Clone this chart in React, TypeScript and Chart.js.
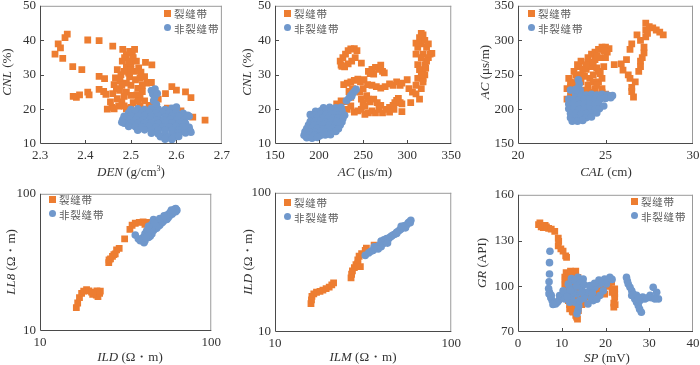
import React, { useEffect, useRef } from 'react';
import { Chart, registerables } from 'chart.js';
Chart.register(...registerables);

const ORANGE = '#ED7D31';
const BLUE = '#7098CC';
const LABEL_FRAC = '裂缝带';
const LABEL_NON = '非裂缝带';

type Pt = [number, number];

// Panel 1: DEN vs CNL
const denCnlFrac: Pt[] = [[2.333,36],[2.34,39],[2.345,37.8],[2.35,34.8],[2.355,40.8],[2.36,41.8],[2.372,32.4],[2.392,31.5],[2.373,23.8],[2.38,23.5],[2.387,24.2],[2.405,25],[2.408,24.2],[2.405,40.1],[2.43,39.9],[2.43,29.6],[2.442,28.9],[2.43,25.8],[2.44,25.2],[2.445,24.4],[2.448,20.1],[2.458,20.6],[2.46,38.3],[2.47,31.5],[2.463,27.2],[2.468,26],[2.476,28.3],[2.482,37.4],[2.481,34],[2.49,35.8],[2.497,36.8],[2.503,36.4],[2.508,37.4],[2.49,32.2],[2.5,33.2],[2.512,34],[2.517,32],[2.522,30.8],[2.532,33.6],[2.546,32.9],[2.535,27.6],[2.545,27.8],[2.5,27],[2.51,28.6],[2.49,25],[2.5,24.1],[2.52,23.2],[2.505,22],[2.48,22.2],[2.47,23.1],[2.46,24.6],[2.49,20.2],[2.5,20.6],[2.52,21],[2.532,20.1],[2.56,23],[2.576,24.6],[2.59,26.6],[2.6,25.6],[2.62,25.1],[2.632,23.4],[2.61,19.6],[2.636,17.8],[2.663,16.9],[2.58,20.4],[2.57,19.2],[2.55,22.1],[2.478,30.1],[2.466,29.1],[2.497,29.4],[2.515,26.1],[2.525,25.2],[2.54,21.2],[2.555,20.5],[2.598,19.6],[2.455,22.2],[2.49,27.6],[2.508,31],[2.486,35],[2.52,29],[2.473,21],[2.463,20.2],[2.485,23.8],[2.495,30.5],[2.513,24.2],[2.53,22.5],
[2.485,31],[2.495,34],[2.505,35],[2.475,25.5],[2.48,27],[2.5,31.5],[2.525,27],[2.515,22.5],[2.485,21],[2.53,29.5]];
const denCnlNon: Pt[] = [[2.50,20],[2.515,20.2],[2.53,20],[2.545,20.3],[2.56,20.1],[2.575,20],[2.59,20.3],[2.60,20.5],
[2.495,19],[2.51,19.1],[2.525,19],[2.54,19.2],[2.555,19],[2.57,19.1],[2.585,19],[2.60,19.2],[2.615,18.9],
[2.485,18],[2.50,18.1],[2.515,18],[2.53,18.2],[2.545,18],[2.56,18.1],[2.575,17.9],[2.59,18.1],[2.605,18],[2.62,18.2],[2.628,18],
[2.482,17],[2.497,17.1],[2.512,16.9],[2.527,17],[2.542,17.2],[2.557,17],[2.572,16.9],[2.587,17.1],[2.602,17],[2.617,16.9],
[2.485,16],[2.50,16.1],[2.515,15.9],[2.53,16],[2.545,16.1],[2.56,15.9],[2.575,16],[2.59,16.1],[2.605,15.9],[2.62,16],
[2.495,15.1],[2.51,15],[2.525,14.9],[2.54,15.1],[2.555,15],[2.57,14.9],[2.585,15],[2.60,15.1],[2.615,15],[2.628,14.8],
[2.515,14],[2.53,14.1],[2.545,13.9],[2.56,14],[2.575,14.1],[2.59,13.9],[2.605,14],[2.62,14.1],[2.63,13.8],
[2.545,13.1],[2.56,12.9],[2.575,13],[2.59,12.9],[2.605,13.1],[2.62,13.2],
[2.565,12.1],[2.58,11.9],[2.595,12],[2.605,12.2],[2.575,11.4],[2.59,11.3],
[2.545,25.5],[2.548,24.5],[2.552,23.5],[2.55,22.5],[2.556,21.5],[2.558,24.6],[2.553,25.9],
[2.60,20.7],[2.625,18.3],[2.632,13.4],[2.48,16.3]];

// Panel 2: AC vs CNL
const acCnlFrac: Pt[] = [[224,34],[225,32.8],[227,35],[230,36],[233,37],[236,37.5],[240,37.6],[243,37],[241,35],[237,34],[233,33.2],[229,32.3],[226,32.5],[248,33.4],
[256,31],[260,31.6],[264,32.2],[268,31.6],[270,32.8],[272,31],[262,30.2],[258,30.4],[274,30.6],
[228,27.2],[232,27.6],[236,28],[240,28.4],[244,28.8],[247,28],[238,26],[234,25.2],[251,28.6],[255,27.2],[260,27],[265,26.6],[270,26.2],[275,26.6],[250,26],[246,25],[248,23],[250,22],[252,21],[254,24],[256,23],[258,22.2],[262,23],[266,22],[270,21.2],
[220,21.6],[224,20.2],[228,19.6],[232,20],[236,21],[240,19.2],[244,19.6],[248,20],[252,18.6],[256,19],[260,19.6],[264,19],[268,20],[272,19],[276,20],[280,20.6],[284,21.2],[286,22],[288,22.6],[290,23.2],[292,22],[294,21.6],[294,19.4],[285,20],[280,19.2],[231,22.3],[236,23.5],[225,22.5],
[280,27.4],[284,27],[288,28],[292,27],[294,27.6],
[300,28.6],[302,26],[304,22],[306,25],[310,27],[312,29],[310,24.5],[314,23],[316,26],[318,29],[318,31],[320,33],[318,36],[316,39],[314,40.8],[316,42],[318,41.6],[320,40],[322,38],[324,39],[326,36],[328,36.2],[324,35],[322,34],[320,30],[316,35],[312,38],[310,39.2],[310,36],[312,33],[314,31.5],[316,30],[318,28],[321,32]];
const acCnlNon: Pt[] = [[205,20.5],[212,20.6],[219,20.5],[225,20.6],
[196,19.5],[202,19.6],[208,19.5],[214,19.6],[220,19.5],[226,19.6],
[190,18.5],[196,18.4],[202,18.5],[208,18.6],[214,18.5],[220,18.4],[226,18.5],[229,18.3],
[192,17.5],[198,17.6],[204,17.5],[210,17.4],[216,17.5],[222,17.6],[227,17.4],
[190,16.5],[196,16.6],[202,16.5],[208,16.4],[214,16.5],[220,16.6],[226,16.4],
[188,15.5],[194,15.4],[200,15.5],[206,15.6],[212,15.5],[218,15.4],[224,15.5],
[186,14.5],[192,14.6],[198,14.5],[204,14.4],[210,14.5],[216,14.6],[222,14.4],
[184,13.5],[190,13.4],[196,13.5],[202,13.6],[208,13.5],[214,13.4],[219,13.6],
[183,12.5],[189,12.6],[195,12.5],[201,12.4],[207,12.6],[213,12.7],
[186,11.8],[192,11.7],[198,11.9],
[231,22.5],[234,23.3],[236,24],[238,24.6],[240,25.2],[242,25.8],[237,23.8]];

// Panel 3: CAL vs AC
const calAcFrac: Pt[] = [[22.8,215],[22.8,230],[22.9,245],[23.0,240],[23.2,255],[23.4,265],[23.6,270],[23.2,225],[23.0,220],
[24.0,275],[24.2,280],[24.4,283],[24.6,287],[24.8,290],[25.0,290],[25.2,288],[24.4,272],[24.7,275],[25.1,283],[24.0,268],[23.9,258],[24.2,262],[24.5,260],[24.6,255],[24.3,250],[24.1,245],[24.6,240],[24.8,245],[24.0,235],[24.4,230],[24.2,225],[24.8,225],[25.0,222],[25.3,220],[24.8,230],[23.8,248],[23.6,240],[23.4,235],[23.8,228],[23.3,250],[23.5,262],[24.9,262],[25.0,275],
[23.0,232],[23.2,238],[23.4,245],[23.6,250],[23.7,258],[23.9,265],[24.3,268],[24.5,278],[24.9,285],[24.3,240],[24.5,235],[24.0,228],[23.6,225],[24.4,222],[24.7,252],
[25.5,265],[25.9,266],[26.0,257],[26.2,272],[26.3,250],[26.4,245],[26.5,232],[26.6,218],[26.5,226],[26.7,240],[26.4,287],[26.5,295],[26.8,308],[27.0,300],[27.0,270],[27.1,275],[27.2,282],[27.2,290],[27.3,305],[27.3,315],[27.3,325],[27.5,320],[27.7,318],[27.9,315],[28.1,312],[28.3,308],[27.4,310],[27.0,262],[26.9,255]];
const calAcNon: Pt[] = [[23.3,222],[23.6,222],[23.9,221],[24.2,222],[24.5,221],[24.8,222],[25.1,221],[25.4,220],
[22.9,215],[23.2,215],[23.5,214],[23.8,215],[24.1,215],[24.4,214],[24.7,215],[25.0,216],[25.3,217],
[22.9,208],[23.2,208],[23.5,207],[23.8,208],[24.1,208],[24.4,207],[24.6,208],
[22.9,201],[23.2,201],[23.5,200],[23.8,201],[24.1,201],[24.4,200],[24.65,201],
[23.0,194],[23.3,194],[23.6,193],[23.9,194],[24.2,194],[24.5,195],
[23.0,188],[23.3,188],[23.6,187],[23.9,188],[24.2,189],
[23.1,183],[23.4,183],[23.7,184],
[23.45,243],[23.5,237],[23.45,231],[23.55,228],[24.9,205],[23.0,228],[23.3,229]];

// Panel 4: ILD vs LL8 (log)
const ildLl8Frac: Pt[] = [[16.3,14.8],[16.6,16],[17,17.5],[17.5,18.8],[18,19.5],[18.7,20],[19.3,19.6],[20,19.2],[20.7,19],[21.3,18.3],[21.8,17.8],[22.3,18.8],[22.5,19.5],[21.5,19.6],[20.3,18.5],
[25.2,31.5],[25.3,33],[25.8,33.5],[26.5,35],[27,36],[27.5,36.5],[28,39],[29,40],[31.2,47],[33.5,55],[34.5,59],[36,61],[38,62],[40,62.5],[42,62],[41,60]];
const ildLl8Non: Pt[] = [[36,50],[37.5,47],[38.5,45.5],[39.5,46.5],[40.5,44],[41,45.5],[40,48],[41,51],[42,54],[43,53],[44,57],[45,60],[44,49],[46,54],[47,58],[48,60],[49,62],[50,63],[48,56],[46,65],[52,66],[54,68],[55,70],[56,67],[57,72],[58,74],[59,71],[60,75],[61,77],[62,78],[63,76],[62,74],[53,64],[51,61],[45,51],[43,48],[47,62],[50,59],[57,69],[60,73],[58.5,76],[42.5,50],[44,54.5],[45.5,57],[49,58],[52,62],[55,65],[50,66],[53,69],[41.5,48],[46.5,61],[43,58]];

// Panel 5: ILM vs ILD (log)
const ilmIldFrac: Pt[] = [[16,16],[16.1,17],[16.2,18],[16.6,18.8],[17.2,19.3],[18,19.6],[18.7,20],[19.5,20.5],[20.3,21],[21,21.8],[21.5,22.5],[27,24.5],[27.2,26],[27.5,27.5],[28.2,29],[28.8,30.5],[29.5,31],[30.5,29.5],[29.5,33],[30,35],[31,36.5],[32.5,38.5],[33,40],[36.5,42]];
const ilmIldNon: Pt[] = [[32.5,35.5],[34,37],[35,38],[36,38.5],[37,40],[38,41],[39,42],[40,41],[41,43],[42,44],[40,45],[41.5,46],[42.5,45],[43,47],[44,46.5],[43.5,43.5],[45,48],[46,49],[47,50],[48,50.5],[49,52],[50,53],[51,54],[52,55],[53,57],[54,58],[55,58],[56,59],[57,61],[58,62],[59,63.5],[58.5,61],[55,56],[52,57.5],[49,51],[38.5,39.5],[36.5,41]];

// Panel 6: SP vs GR
const spGrFrac: Pt[] = [[4.7,140.5],[5.0,141.5],[5.3,139],[5.8,138.5],[6.2,140],[6.5,139],[7.0,138],[7.6,137.5],[8.4,136],[9.2,131.5],[9.3,129.5],[9.2,126.5],[9.8,124.5],[10.3,123],[10.9,120],[11.1,119],[11.0,109],
[10.7,106],[10.8,104],[10.7,101.5],[11.0,99],[11.1,97],[11.3,94],[11.5,90.6],[11.8,88],[11.8,85.2],[12.4,83.5],[12.6,83],[13.2,81],[13.4,79.8],[13.6,78.5],[13,97],[12.6,109],[13.2,110],[13.7,105.8],[13.4,93.9],[14.1,99.3],[11.6,108],[12.1,106],[12.2,102],[12.5,100],[12.0,95],[12.4,92],[12.8,89],[13.2,86],[13.8,84],[14.2,95],[12.0,110],
[15.6,92.8],[16.8,97],[17.9,99.3],[19.1,101.5],[20.2,103.6],[21.4,102.5],[22.1,98.2],[22.1,95],[22.1,92.8],[21.9,89],[21.9,86.3],[22.2,88],[18.7,97],[17.2,93.9],[19.8,94.9],[16.2,95],[15,90],[14.6,88],[20.8,100],[21.5,96],[19.5,98.5],[18.3,96]];
const spGrNon: Pt[] = [[7.3,123],[7.2,115.5],[7.2,108],[7.1,103],[7.0,98.5],[7.2,96],[7.1,95],[7.5,92.5],[7.8,90.6],[8.2,89],[8.6,88.4],[9.0,89.5],[9.3,90.6],[8.0,88],[7.6,94],
[9.5,93.9],[10.2,94.5],[11.1,95],[11.8,99.3],[12.6,103.6],[13.7,105.8],[14.9,104.7],[14.5,99.3],[13.4,95],[13,89.5],[13.7,84.1],[13.5,82],[13.9,87],[14.1,90.6],[15.3,93.9],[16.4,97],[17.6,99.3],[18.7,101.5],[19.8,104.7],[21,105.8],[20.2,101.5],[18.7,93.9],[17.2,90.6],[16,88.4],[11.8,89.5],[10.7,91.7],[10.3,97],[11.5,101.5],[12.2,105],[13,104],[14.2,102],[15.2,101],[16.5,100.5],[17.5,102],[18.5,104],[19.2,103],[20.5,104],[21.5,104.5],[15.6,96],[15,92],[14.6,96],[12.2,92],[12.6,96],[16.8,92],[18,91.5],[19.5,97],[17,95.5],[12,97.5],[13.4,100],[11.2,93],
[24.8,105.8],[25.0,103.5],[25.2,101.5],[25.6,99.3],[26.0,97],[26.3,95],[26.7,91.7],[27.1,89.5],[27.5,87.3],[27.8,85],[28.2,83],[27.9,90.6],[29,91.7],[30.2,94],[30.9,99.3],[31.7,96],[32.1,91.7],[31.3,91.7],[26,94],[27.1,94],[28.5,93],[27.5,92],[30.5,92.5],[29.6,92.5]];

// Axis ranges / ticks
const p1X = { min: 2.3, max: 2.7, step: 0.1, dec: 1 };
const p1Y = { min: 10, max: 50, step: 10, dec: 0 };
const p2X = { min: 150, max: 350, step: 50, dec: 0 };
const p2Y = { min: 10, max: 50, step: 10, dec: 0 };
const p3X = { min: 20, max: 30, step: 5, dec: 0 };
const p3Y = { min: 150, max: 350, step: 50, dec: 0 };
const logRange = { min: 10, max: 100, log: true };
const p6X = { min: 0, max: 40, step: 10, dec: 0 };
const p6Y = { min: 70, max: 160, step: 30, dec: 0 };

const PADL = 40, PADT = 10, PADR = 12, PADB = 24;
const TICK_FONT = { family: "'Liberation Serif', 'Times New Roman', serif", size: 13 };

function makeScale(ax: any, isX: boolean) {
  const common: any = {
    min: ax.min, max: ax.max,
    grid: { display: false, drawTicks: false },
    border: { display: false },
    afterFit: (s: any) => { if (isX) s.height = PADB; else s.width = PADL; },
  };
  if (ax.log) {
    return {
      ...common, type: 'logarithmic',
      ticks: {
        font: TICK_FONT, color: '#333', padding: 4, autoSkip: false, maxRotation: 0,
        callback: (v: any) => (v === 10 || v === 100 ? String(v) : ''),
      },
    };
  }
  return {
    ...common, type: 'linear',
    ticks: {
      font: TICK_FONT, color: '#333', padding: 4, autoSkip: false, maxRotation: 0,
      stepSize: ax.step,
      callback: (v: any) => Number(v).toFixed(ax.dec),
    },
  };
}

const framePlugin = {
  id: 'frame',
  afterDatasetsDraw(chart: any) {
    const { ctx, chartArea } = chart;
    const { left, top, right, bottom } = chartArea;
    ctx.save();
    ctx.lineWidth = 1;
    ctx.strokeStyle = '#9a9a9a';
    ctx.beginPath();
    ctx.moveTo(left, top + 0.5); ctx.lineTo(right, top + 0.5);
    ctx.moveTo(right - 0.5, top); ctx.lineTo(right - 0.5, bottom);
    ctx.stroke();
    ctx.strokeStyle = '#4a4a4a';
    ctx.beginPath();
    ctx.moveTo(left + 0.5, top); ctx.lineTo(left + 0.5, bottom - 0.5); ctx.lineTo(right, bottom - 0.5);
    ctx.stroke();
    const xs = chart.scales.x, ys = chart.scales.y;
    ctx.beginPath();
    if (xs.type !== 'logarithmic') {
      xs.ticks.forEach((t: any) => {
        const px = Math.round(xs.getPixelForValue(t.value)) + 0.5;
        if (px > left + 2 && px < right - 2) { ctx.moveTo(px, bottom); ctx.lineTo(px, bottom - 4); }
      });
    }
    if (ys.type !== 'logarithmic') {
      ys.ticks.forEach((t: any) => {
        const py = Math.round(ys.getPixelForValue(t.value)) + 0.5;
        if (py > top + 2 && py < bottom - 2) { ctx.moveTo(left, py); ctx.lineTo(left + 4, py); }
      });
    }
    ctx.stroke();
    ctx.restore();
  },
};

type PanelProps = { L: number; T: number; R: number; B: number; xa: any; ya: any; frac: Pt[]; non: Pt[] };

function Panel({ L, T, R, B, xa, ya, frac, non }: PanelProps) {
  const ref = useRef<HTMLCanvasElement>(null);
  const w = R - L + PADL + PADR;
  const h = B - T + PADT + PADB;
  useEffect(() => {
    const chart = new Chart(ref.current as HTMLCanvasElement, {
      type: 'scatter',
      data: {
        datasets: [
          {
            label: LABEL_NON, order: 1,
            data: non.map(([x, y]) => ({ x, y })),
            pointStyle: 'circle', pointRadius: 3.8, backgroundColor: BLUE, borderColor: BLUE, borderWidth: 0,
          },
          {
            label: LABEL_FRAC, order: 2,
            data: frac.map(([x, y]) => ({ x, y })),
            pointStyle: 'rect', pointRadius: 4.8, backgroundColor: ORANGE, borderColor: ORANGE, borderWidth: 0,
          },
        ],
      },
      options: {
        responsive: false,
        animation: false,
        events: [],
        layout: { padding: { left: 0, top: PADT, right: PADR, bottom: 0 } },
        plugins: { legend: { display: false }, tooltip: { enabled: false } },
        scales: { x: makeScale(xa, true), y: makeScale(ya, false) } as any,
      },
      plugins: [framePlugin],
    });
    return () => chart.destroy();
  }, []);
  return (
    <canvas ref={ref} width={w} height={h}
      style={{ position: 'absolute', left: L - PADL, top: T - PADT, width: w, height: h }} />
  );
}

const serif = "'Liberation Serif', 'Times New Roman', serif";

function XTitle({ x, y, v, unit }: { x: number; y: number; v: string; unit: React.ReactNode }) {
  return (
    <div style={{ position: 'absolute', left: x, top: y, transform: 'translate(-50%,-50%)', whiteSpace: 'nowrap', font: `13px ${serif}`, color: '#333' }}>
      <i>{v}</i> {unit}
    </div>
  );
}
function YTitle({ x, y, v, unit }: { x: number; y: number; v: string; unit: React.ReactNode }) {
  return (
    <div style={{ position: 'absolute', left: x, top: y, transform: 'translate(-50%,-50%) rotate(-90deg)', whiteSpace: 'nowrap', font: `13px ${serif}`, color: '#333' }}>
      <i>{v}</i> {unit}
    </div>
  );
}
function Legend({ x, y }: { x: number; y: number }) {
  const txt: React.CSSProperties = { position: 'absolute', left: x + 7, transform: 'translateY(-50%)', whiteSpace: 'nowrap', fontFamily: "'Noto Sans CJK SC', sans-serif", fontSize: 10.5, letterSpacing: 0.8, color: '#5a5a5a' };
  return (
    <>
      <div style={{ position: 'absolute', left: x - 3.5, top: y - 3.5, width: 7, height: 7, background: ORANGE }} />
      <div style={{ ...txt, top: y }}>{LABEL_FRAC}</div>
      <div style={{ position: 'absolute', left: x - 3.5, top: y + 14.5 - 3.5, width: 7, height: 7, borderRadius: '50%', background: BLUE }} />
      <div style={{ ...txt, top: y + 14.5 }}>{LABEL_NON}</div>
    </>
  );
}

const ohm = '(Ω・m)';

export default function App() {
  return (
    <div style={{ position: 'fixed', left: 0, top: 0, width: 700, height: 365, background: '#fff', overflow: 'hidden' }}>
      <Panel L={40} T={4} R={222} B={144} xa={p1X} ya={p1Y} frac={denCnlFrac} non={denCnlNon} />
      <Panel L={275} T={4} R={453} B={144} xa={p2X} ya={p2Y} frac={acCnlFrac} non={acCnlNon} />
      <Panel L={518} T={4} R={693} B={144} xa={p3X} ya={p3Y} frac={calAcFrac} non={calAcNon} />
      <Panel L={40} T={192} R={213} B={331} xa={logRange} ya={logRange} frac={ildLl8Frac} non={ildLl8Non} />
      <Panel L={275} T={191} R={453} B={332} xa={logRange} ya={logRange} frac={ilmIldFrac} non={ilmIldNon} />
      <Panel L={518} T={193} R={693} B={332} xa={p6X} ya={p6Y} frac={spGrFrac} non={spGrNon} />

      <XTitle x={131} y={172} v="DEN" unit={<span>(g/cm<sup style={{ fontSize: 8 }}>3</sup>)</span>} />
      <YTitle x={7} y={72} v="CNL" unit="(%)" />
      <XTitle x={365} y={172} v="AC" unit="(μs/m)" />
      <YTitle x={247} y={72} v="CNL" unit="(%)" />
      <XTitle x={606} y={172} v="CAL" unit="(cm)" />
      <YTitle x={485} y={72} v="AC" unit="(μs/m)" />
      <XTitle x={130} y={357} v="ILD" unit={ohm} />
      <YTitle x={11} y={262} v="LL8" unit={ohm} />
      <XTitle x={363} y={357} v="ILM" unit={ohm} />
      <YTitle x={248} y={262} v="ILD" unit={ohm} />
      <XTitle x={607} y={358} v="SP" unit="(mV)" />
      <YTitle x={482} y={263} v="GR" unit="(API)" />

      <Legend x={167} y={13} />
      <Legend x={287} y={13} />
      <Legend x={531} y={13} />
      <Legend x={52} y={199} />
      <Legend x={287} y={202} />
      <Legend x={634} y={201} />
    </div>
  );
}
